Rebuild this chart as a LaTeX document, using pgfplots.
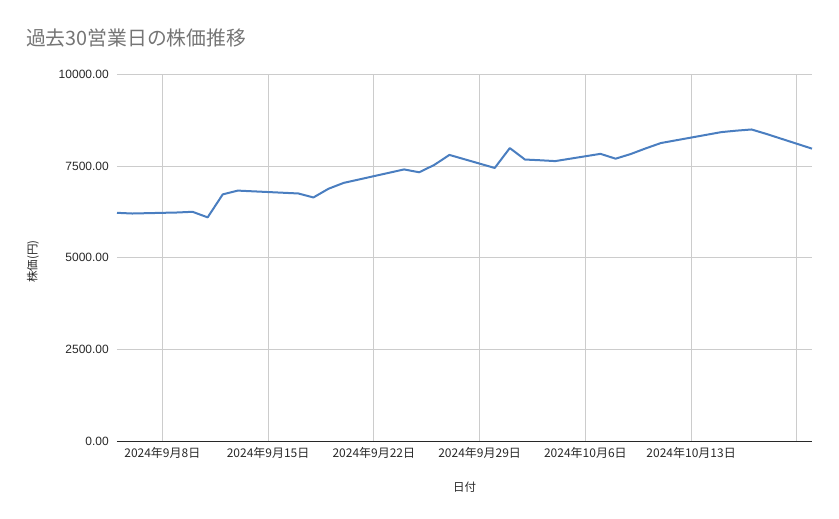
\documentclass[border=0pt]{standalone}
\usepackage{pgfplots}
\pgfplotsset{compat=1.18}
\usepackage{fontspec}
\setmainfont{Liberation Sans}
\newfontfamily\cjk{Noto Sans CJK JP}
\definecolor{linec}{RGB}{74,126,192}
\definecolor{gridc}{RGB}{204,204,204}
\definecolor{titlec}{RGB}{117,117,117}
\definecolor{tickc}{RGB}{40,40,40}
\begin{document}
\begin{tikzpicture}
\path[use as bounding box] (0pt,0pt) rectangle (839pt,-519pt);
\node[anchor=west, inner sep=0pt, text=titlec, font=\cjk\fontsize{19.8}{22}\selectfont] at (26pt,-38pt) {過去30営業日の株価推移};
\begin{axis}[
  at={(117pt,-441pt)}, anchor=south west,
  scale only axis, width=695pt, height=366.5pt,
  xmin=0, xmax=46, ymin=0, ymax=10000,
  axis x line*=bottom,
  axis y line*=left,
  x axis line style={draw=tickc, line width=1pt, -},
  y axis line style={draw=none},
  ytick={0,2500,5000,7500,10000},
  scaled y ticks=false,
  xtick={3,10,17,24,31,38,45},
  xticklabels={2024年9月8日,2024年9月15日,2024年9月22日,2024年9月29日,2024年10月6日,2024年10月13日,{}},
  major tick length=0pt,
  grid=major,
  major grid style={draw=gridc, line width=0.9pt},
  /pgf/number format/assume math mode=true,
  yticklabel={\pgfmathprintnumber[fixed,fixed zerofill,precision=2,1000 sep={}]{\tick}},
  yticklabel style={anchor=east, inner sep=0pt, xshift=-8pt, text=tickc, font=\fontsize{12}{14}\selectfont},
  xticklabel style={anchor=north, inner sep=0pt, yshift=-6pt, text=tickc, font=\cjk\fontsize{12}{14}\selectfont},
  xlabel={日付},
  ylabel={株価(円)},
  xlabel style={at={(axis description cs:0.5,-0.125)}, anchor=center, inner sep=0pt, text=tickc, font=\cjk\fontsize{11.5}{13}\selectfont},
  ylabel style={at={(axis description cs:-0.121,0.49)}, anchor=center, inner sep=0pt, text=tickc, font=\cjk\fontsize{11.5}{13}\selectfont},
  clip=false,
]
\addplot[color=linec, line width=2pt, line join=round, mark=none] coordinates {
(0,6226) (1,6207) (4,6235) (5,6254) (6,6102) (7,6730) (8,6832)
(12,6754) (13,6645) (14,6883) (15,7042)
(19,7410) (20,7332) (21,7533) (22,7806)
(25,7450) (26,7993) (27,7680) (28,7660) (29,7637)
(32,7835) (33,7703) (34,7830) (35,7985) (36,8130)
(40,8428) (41,8468) (42,8500) (43,8376) (46,7977)
};
\end{axis}
\end{tikzpicture}
\end{document}
